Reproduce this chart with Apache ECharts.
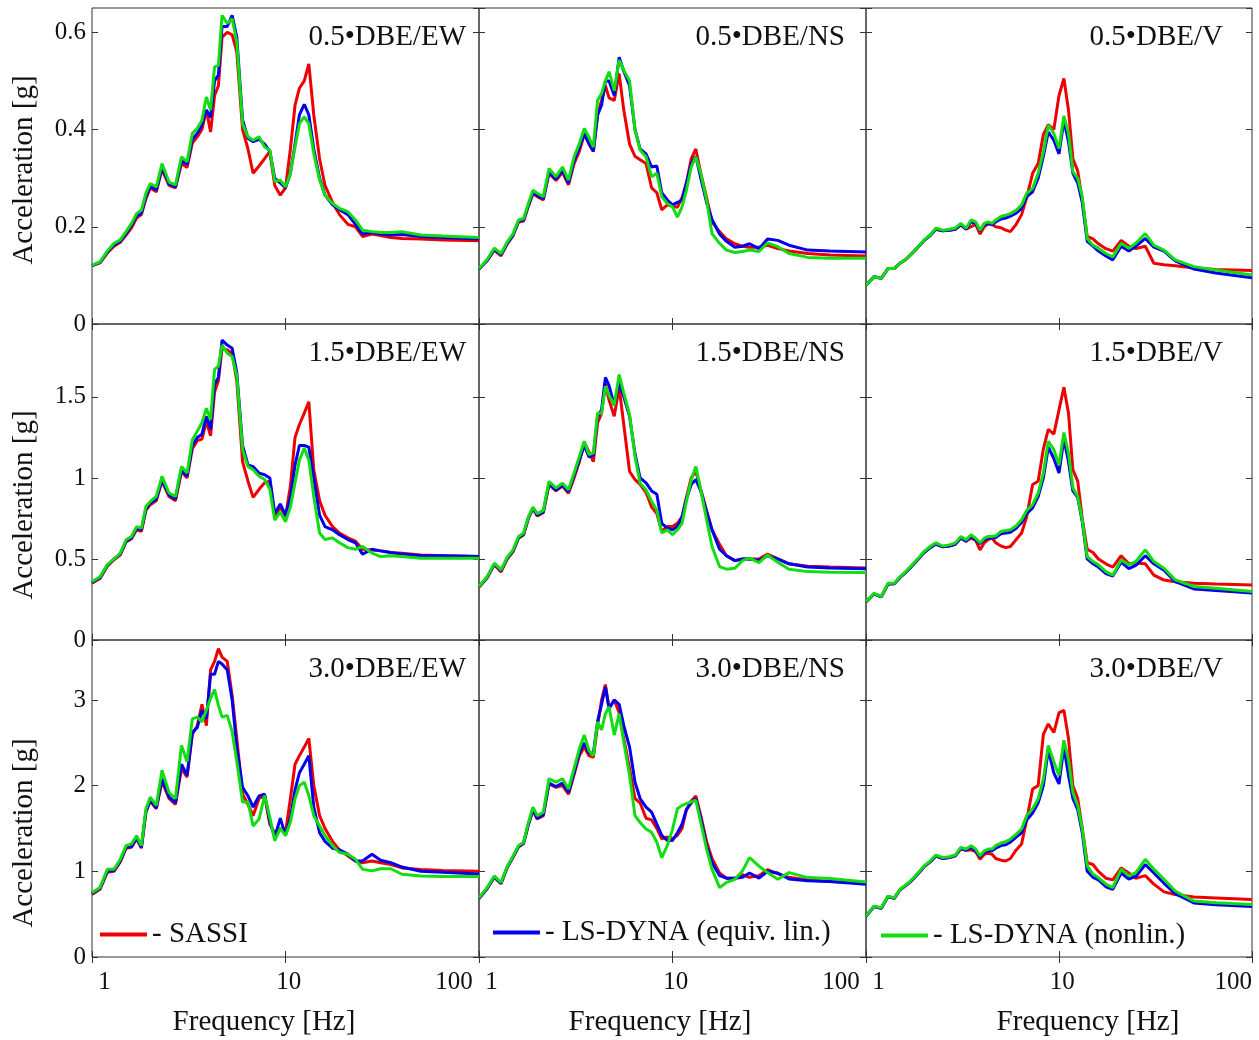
<!DOCTYPE html>
<html>
<head>
<meta charset="utf-8">
<title>Acceleration spectra</title>
<script src="https://cdn.jsdelivr.net/npm/echarts@6/dist/echarts.min.js"></script>
<style>
  html, body { margin: 0; padding: 0; background: #fff; }
  #chart { width: 1259px; height: 1040px; }
</style>
</head>
<body>
<div id="chart"></div>
<script>
// frequency grid (Hz) shared by every curve
const freq = [
  1, 1.1, 1.2, 1.3, 1.4, 1.5, 1.6, 1.7, 1.8, 1.9,
  2.0, 2.15, 2.3, 2.5, 2.7, 2.9, 3.1, 3.3, 3.5, 3.7,
  3.9, 4.1, 4.3, 4.5, 4.7, 5.0, 5.3, 5.6, 6.0, 6.4,
  6.8, 7.3, 7.8, 8.3, 8.8, 9.4, 10, 10.6, 11.2, 11.8,
  12.5, 13.2, 14, 15, 16, 17.5, 19, 21, 23, 25,
  28, 31, 35, 40, 50, 65, 100
];

const seriesNames = ['SASSI', 'LS-DYNA (equiv. lin.)', 'LS-DYNA (nonlin.)'];
const panelLabels = [
  ['0.5\u2022DBE/EW', '0.5\u2022DBE/NS', '0.5\u2022DBE/V'],
  ['1.5\u2022DBE/EW', '1.5\u2022DBE/NS', '1.5\u2022DBE/V'],
  ['3.0\u2022DBE/EW', '3.0\u2022DBE/NS', '3.0\u2022DBE/V']
];
const xTickLabels = ['1', '10', '100'];

// ---- 0.5 DBE ----
const sassi_EW05 = [
  0.120, 0.126, 0.146, 0.160, 0.168, 0.183, 0.198, 0.218, 0.225, 0.258,
  0.280, 0.272, 0.318, 0.285, 0.280, 0.330, 0.322, 0.372, 0.385, 0.400,
  0.440, 0.395, 0.470, 0.490, 0.590, 0.600, 0.595, 0.560, 0.400, 0.360,
  0.310, 0.325, 0.340, 0.355, 0.285, 0.265, 0.280, 0.360, 0.450, 0.485,
  0.500, 0.535, 0.430, 0.340, 0.285, 0.250, 0.225, 0.205, 0.200, 0.180,
  0.185, 0.182, 0.178, 0.176, 0.175, 0.173, 0.171
];
const eqlin_EW05 = [
  0.120, 0.127, 0.148, 0.163, 0.170, 0.186, 0.203, 0.222, 0.228, 0.262,
  0.283, 0.276, 0.322, 0.288, 0.282, 0.336, 0.328, 0.380, 0.392, 0.410,
  0.440, 0.425, 0.500, 0.512, 0.612, 0.612, 0.635, 0.590, 0.420, 0.382,
  0.375, 0.380, 0.370, 0.355, 0.300, 0.290, 0.280, 0.310, 0.370, 0.430,
  0.452, 0.430, 0.360, 0.300, 0.265, 0.245, 0.235, 0.225, 0.205, 0.185,
  0.188, 0.185, 0.183, 0.184, 0.180, 0.178, 0.175
];
const nonlin_EW05 = [
  0.121, 0.128, 0.150, 0.166, 0.173, 0.190, 0.207, 0.227, 0.234, 0.269,
  0.289, 0.282, 0.330, 0.292, 0.286, 0.344, 0.334, 0.392, 0.402, 0.419,
  0.467, 0.440, 0.529, 0.532, 0.635, 0.618, 0.628, 0.580, 0.412, 0.385,
  0.378, 0.385, 0.364, 0.358, 0.293, 0.296, 0.282, 0.310, 0.364, 0.412,
  0.426, 0.412, 0.351, 0.296, 0.265, 0.248, 0.238, 0.231, 0.214, 0.193,
  0.190, 0.188, 0.188, 0.190, 0.183, 0.181, 0.178
];

const sassi_NS05 = [
  0.113, 0.130, 0.152, 0.140, 0.165, 0.182, 0.210, 0.212, 0.242, 0.268,
  0.262, 0.255, 0.310, 0.295, 0.312, 0.286, 0.330, 0.355, 0.390, 0.370,
  0.355, 0.430, 0.460, 0.490, 0.465, 0.460, 0.515, 0.440, 0.370, 0.345,
  0.338, 0.330, 0.280, 0.270, 0.235, 0.245, 0.242, 0.240, 0.260, 0.290,
  0.340, 0.360, 0.310, 0.260, 0.210, 0.190, 0.175, 0.165, 0.160, 0.158,
  0.158, 0.162, 0.155, 0.150, 0.145, 0.142, 0.140
];
const eqlin_NS05 = [
  0.113, 0.130, 0.153, 0.143, 0.166, 0.183, 0.211, 0.214, 0.244, 0.270,
  0.264, 0.258, 0.312, 0.298, 0.316, 0.290, 0.336, 0.362, 0.392, 0.372,
  0.355, 0.430, 0.450, 0.500, 0.500, 0.470, 0.549, 0.520, 0.490, 0.400,
  0.360, 0.350, 0.323, 0.325, 0.270, 0.255, 0.245, 0.250, 0.255, 0.290,
  0.330, 0.345, 0.300, 0.250, 0.215, 0.185, 0.170, 0.158, 0.160, 0.165,
  0.155, 0.175, 0.172, 0.162, 0.152, 0.150, 0.148
];
const nonlin_NS05 = [
  0.114, 0.132, 0.156, 0.145, 0.169, 0.186, 0.214, 0.217, 0.248, 0.275,
  0.269, 0.262, 0.320, 0.303, 0.323, 0.296, 0.344, 0.371, 0.402, 0.384,
  0.364, 0.460, 0.474, 0.500, 0.519, 0.480, 0.543, 0.522, 0.500, 0.399,
  0.358, 0.344, 0.303, 0.310, 0.262, 0.248, 0.241, 0.220, 0.241, 0.275,
  0.323, 0.344, 0.310, 0.255, 0.186, 0.166, 0.152, 0.147, 0.149, 0.152,
  0.149, 0.167, 0.159, 0.145, 0.137, 0.135, 0.135
];

const sassi_V05 = [
  0.080, 0.097, 0.094, 0.114, 0.114, 0.125, 0.132, 0.142, 0.152, 0.162,
  0.172, 0.182, 0.195, 0.192, 0.193, 0.195, 0.204, 0.195, 0.200, 0.205,
  0.185, 0.200, 0.206, 0.205, 0.200, 0.198, 0.193, 0.190, 0.205, 0.225,
  0.260, 0.310, 0.330, 0.390, 0.410, 0.400, 0.470, 0.505, 0.440, 0.340,
  0.315, 0.255, 0.180, 0.175, 0.165, 0.155, 0.150, 0.172, 0.160, 0.155,
  0.160, 0.125, 0.122, 0.120, 0.115, 0.112, 0.110
];
const eqlin_V05 = [
  0.080, 0.097, 0.094, 0.114, 0.114, 0.125, 0.132, 0.142, 0.152, 0.162,
  0.172, 0.182, 0.195, 0.192, 0.193, 0.195, 0.204, 0.195, 0.210, 0.207,
  0.192, 0.204, 0.207, 0.204, 0.210, 0.216, 0.218, 0.222, 0.228, 0.238,
  0.262, 0.272, 0.300, 0.345, 0.395, 0.378, 0.350, 0.418, 0.375, 0.310,
  0.290, 0.250, 0.170, 0.160, 0.150, 0.140, 0.132, 0.160, 0.150, 0.160,
  0.176, 0.158, 0.150, 0.130, 0.113, 0.105, 0.095
];
const nonlin_V05 = [
  0.080, 0.097, 0.094, 0.114, 0.114, 0.125, 0.132, 0.142, 0.152, 0.162,
  0.173, 0.183, 0.197, 0.193, 0.195, 0.197, 0.207, 0.197, 0.214, 0.210,
  0.193, 0.207, 0.210, 0.207, 0.214, 0.221, 0.224, 0.227, 0.234, 0.245,
  0.269, 0.279, 0.310, 0.354, 0.409, 0.392, 0.361, 0.428, 0.392, 0.313,
  0.300, 0.262, 0.176, 0.162, 0.156, 0.145, 0.138, 0.166, 0.156, 0.166,
  0.186, 0.162, 0.152, 0.132, 0.118, 0.111, 0.101
];

// ---- 1.5 DBE ----
const sassi_EW15 = [
  0.350, 0.380, 0.455, 0.495, 0.525, 0.605, 0.625, 0.680, 0.670, 0.800,
  0.835, 0.860, 0.980, 0.885, 0.860, 1.040, 1.000, 1.180, 1.230, 1.240,
  1.350, 1.260, 1.530, 1.600, 1.800, 1.790, 1.770, 1.600, 1.100, 0.980,
  0.880, 0.930, 0.970, 0.980, 0.760, 0.820, 0.760, 0.950, 1.250, 1.330,
  1.400, 1.470, 1.050, 0.860, 0.770, 0.700, 0.660, 0.630, 0.610, 0.560,
  0.555, 0.550, 0.540, 0.535, 0.525, 0.520, 0.515
];
const eqlin_EW15 = [
  0.355, 0.385, 0.460, 0.500, 0.530, 0.610, 0.630, 0.690, 0.680, 0.810,
  0.845, 0.870, 0.990, 0.895, 0.870, 1.050, 1.010, 1.200, 1.250, 1.270,
  1.380, 1.300, 1.580, 1.620, 1.850, 1.820, 1.800, 1.650, 1.200, 1.080,
  1.070, 1.030, 1.020, 1.000, 0.780, 0.840, 0.770, 0.880, 1.080, 1.200,
  1.200, 1.190, 1.000, 0.770, 0.700, 0.680, 0.650, 0.620, 0.600, 0.530,
  0.560, 0.550, 0.540, 0.530, 0.520, 0.520, 0.515
];
const nonlin_EW15 = [
  0.360, 0.390, 0.465, 0.500, 0.536, 0.618, 0.639, 0.700, 0.690, 0.824,
  0.855, 0.886, 1.010, 0.907, 0.886, 1.070, 1.030, 1.236, 1.288, 1.340,
  1.430, 1.360, 1.670, 1.690, 1.820, 1.770, 1.750, 1.630, 1.175, 1.070,
  1.050, 1.010, 0.990, 0.930, 0.740, 0.790, 0.730, 0.820, 0.970, 1.110,
  1.185, 1.110, 0.886, 0.660, 0.620, 0.630, 0.600, 0.570, 0.560, 0.577,
  0.536, 0.515, 0.520, 0.515, 0.505, 0.505, 0.505
];

const sassi_NS15 = [
  0.325, 0.382, 0.465, 0.420, 0.500, 0.545, 0.628, 0.648, 0.750, 0.810,
  0.765, 0.785, 0.960, 0.920, 0.950, 0.905, 1.000, 1.100, 1.220, 1.160,
  1.100, 1.340, 1.400, 1.580, 1.480, 1.380, 1.560, 1.330, 1.040, 0.990,
  0.960, 0.910, 0.820, 0.780, 0.670, 0.700, 0.700, 0.720, 0.760, 0.880,
  1.000, 1.040, 0.930, 0.800, 0.680, 0.590, 0.520, 0.490, 0.500, 0.500,
  0.500, 0.530, 0.500, 0.470, 0.455, 0.450, 0.445
];
const eqlin_NS15 = [
  0.328, 0.385, 0.468, 0.428, 0.505, 0.550, 0.632, 0.652, 0.755, 0.815,
  0.770, 0.790, 0.965, 0.925, 0.955, 0.915, 1.015, 1.110, 1.200, 1.130,
  1.140, 1.380, 1.420, 1.620, 1.570, 1.450, 1.590, 1.500, 1.380, 1.150,
  1.000, 0.970, 0.920, 0.900, 0.720, 0.690, 0.680, 0.700, 0.760, 0.870,
  0.960, 0.990, 0.920, 0.790, 0.680, 0.560, 0.520, 0.490, 0.500, 0.500,
  0.490, 0.520, 0.500, 0.470, 0.450, 0.445, 0.440
];
const nonlin_NS15 = [
  0.330, 0.390, 0.474, 0.433, 0.511, 0.556, 0.639, 0.659, 0.760, 0.820,
  0.780, 0.800, 0.979, 0.938, 0.968, 0.927, 1.030, 1.133, 1.226, 1.144,
  1.154, 1.400, 1.400, 1.566, 1.510, 1.450, 1.638, 1.525, 1.390, 1.133,
  0.968, 0.927, 0.855, 0.800, 0.660, 0.680, 0.650, 0.680, 0.720, 0.855,
  0.990, 1.070, 0.927, 0.742, 0.577, 0.453, 0.437, 0.443, 0.490, 0.505,
  0.478, 0.525, 0.480, 0.437, 0.422, 0.418, 0.416
];

const sassi_V15 = [
  0.235, 0.285, 0.266, 0.345, 0.347, 0.386, 0.416, 0.448, 0.480, 0.510,
  0.540, 0.570, 0.592, 0.575, 0.580, 0.590, 0.630, 0.610, 0.630, 0.615,
  0.556, 0.600, 0.620, 0.630, 0.600, 0.580, 0.570, 0.577, 0.620, 0.660,
  0.760, 0.960, 0.980, 1.180, 1.300, 1.270, 1.420, 1.560, 1.400, 1.050,
  0.980, 0.750, 0.560, 0.540, 0.500, 0.470, 0.450, 0.520, 0.470, 0.475,
  0.470, 0.400, 0.370, 0.360, 0.350, 0.345, 0.340
];
const eqlin_V15 = [
  0.235, 0.285, 0.266, 0.345, 0.347, 0.386, 0.416, 0.448, 0.480, 0.510,
  0.540, 0.570, 0.592, 0.575, 0.580, 0.590, 0.630, 0.610, 0.640, 0.618,
  0.595, 0.618, 0.630, 0.630, 0.632, 0.655, 0.660, 0.665, 0.690, 0.725,
  0.780, 0.815, 0.885, 1.000, 1.190, 1.120, 1.030, 1.240, 1.100, 0.920,
  0.880, 0.730, 0.500, 0.470, 0.450, 0.410, 0.395, 0.480, 0.440, 0.460,
  0.520, 0.470, 0.430, 0.360, 0.315, 0.305, 0.290
];
const nonlin_V15 = [
  0.237, 0.288, 0.268, 0.350, 0.350, 0.390, 0.420, 0.453, 0.484, 0.515,
  0.546, 0.577, 0.600, 0.580, 0.587, 0.598, 0.639, 0.618, 0.650, 0.628,
  0.600, 0.628, 0.639, 0.639, 0.643, 0.670, 0.676, 0.680, 0.705, 0.742,
  0.800, 0.835, 0.907, 1.030, 1.226, 1.175, 1.080, 1.280, 1.154, 0.940,
  0.886, 0.742, 0.515, 0.484, 0.464, 0.422, 0.400, 0.494, 0.464, 0.484,
  0.556, 0.484, 0.443, 0.371, 0.330, 0.320, 0.300
];

// ---- 3.0 DBE ----
const sassi_EW30 = [
  0.730, 0.790, 0.990, 1.000, 1.110, 1.270, 1.280, 1.380, 1.270, 1.690,
  1.820, 1.730, 2.050, 1.850, 1.780, 2.200, 2.100, 2.600, 2.700, 2.950,
  2.700, 3.350, 3.450, 3.600, 3.500, 3.450, 3.050, 2.550, 1.900, 1.780,
  1.650, 1.850, 1.880, 1.550, 1.450, 1.500, 1.450, 1.850, 2.250, 2.350,
  2.450, 2.550, 2.000, 1.650, 1.500, 1.350, 1.250, 1.180, 1.120, 1.100,
  1.120, 1.100, 1.080, 1.040, 1.020, 1.010, 1.000
];
const eqlin_EW30 = [
  0.740, 0.800, 1.000, 1.010, 1.120, 1.280, 1.290, 1.390, 1.280, 1.700,
  1.830, 1.740, 2.080, 1.870, 1.800, 2.250, 2.120, 2.620, 2.680, 2.880,
  2.780, 3.300, 3.300, 3.450, 3.420, 3.350, 3.000, 2.450, 1.980, 1.880,
  1.750, 1.880, 1.900, 1.580, 1.400, 1.620, 1.420, 1.620, 1.950, 2.150,
  2.250, 2.350, 1.750, 1.450, 1.350, 1.270, 1.250, 1.200, 1.120, 1.120,
  1.200, 1.130, 1.100, 1.050, 1.000, 0.990, 0.970
];
const nonlin_EW30 = [
  0.750, 0.810, 1.025, 1.025, 1.140, 1.300, 1.320, 1.415, 1.300, 1.730,
  1.865, 1.770, 2.180, 1.920, 1.850, 2.470, 2.280, 2.780, 2.800, 2.745,
  2.880, 3.020, 3.120, 2.940, 2.800, 2.820, 2.630, 2.280, 1.810, 1.810,
  1.530, 1.610, 1.885, 1.630, 1.357, 1.500, 1.416, 1.572, 1.846, 2.000,
  2.040, 1.885, 1.650, 1.530, 1.416, 1.300, 1.220, 1.200, 1.140, 1.025,
  1.005, 1.030, 1.030, 0.966, 0.946, 0.940, 0.940
];

const sassi_NS30 = [
  0.680, 0.795, 0.930, 0.855, 1.045, 1.165, 1.285, 1.325, 1.545, 1.710,
  1.610, 1.650, 2.020, 1.980, 2.000, 1.900, 2.130, 2.350, 2.450, 2.350,
  2.330, 2.700, 3.000, 3.180, 2.900, 3.000, 2.850, 2.550, 2.200, 1.850,
  1.800, 1.620, 1.600, 1.500, 1.380, 1.400, 1.380, 1.420, 1.500, 1.720,
  1.820, 1.880, 1.650, 1.350, 1.150, 0.980, 0.920, 0.920, 0.960, 0.930,
  0.950, 1.020, 0.970, 0.930, 0.900, 0.880, 0.870
];
const eqlin_NS30 = [
  0.685, 0.800, 0.935, 0.860, 1.050, 1.170, 1.290, 1.330, 1.550, 1.720,
  1.620, 1.660, 2.030, 1.990, 2.030, 1.920, 2.150, 2.380, 2.500, 2.380,
  2.380, 2.750, 2.950, 3.150, 2.900, 3.000, 2.950, 2.700, 2.450, 2.040,
  1.850, 1.750, 1.690, 1.550, 1.420, 1.360, 1.360, 1.450, 1.550, 1.720,
  1.800, 1.850, 1.620, 1.300, 1.100, 0.950, 0.920, 0.920, 0.930, 0.980,
  0.920, 1.000, 0.980, 0.910, 0.890, 0.880, 0.850
];
const nonlin_NS30 = [
  0.690, 0.810, 0.946, 0.870, 1.060, 1.180, 1.300, 1.340, 1.570, 1.750,
  1.650, 1.690, 2.080, 2.040, 2.080, 1.960, 2.200, 2.430, 2.590, 2.410,
  2.350, 2.745, 2.650, 2.840, 2.920, 2.590, 2.840, 2.510, 2.120, 1.650,
  1.570, 1.494, 1.455, 1.340, 1.160, 1.300, 1.490, 1.730, 1.770, 1.790,
  1.810, 1.830, 1.570, 1.260, 1.025, 0.810, 0.870, 0.907, 1.005, 1.160,
  1.060, 0.985, 0.907, 0.985, 0.927, 0.915, 0.876
];

const sassi_V30 = [
  0.475, 0.590, 0.570, 0.705, 0.685, 0.785, 0.830, 0.880, 0.938, 0.995,
  1.055, 1.110, 1.180, 1.150, 1.160, 1.180, 1.265, 1.245, 1.250, 1.230,
  1.140, 1.200, 1.210, 1.200, 1.150, 1.130, 1.120, 1.150, 1.250, 1.320,
  1.600, 1.960, 2.000, 2.600, 2.720, 2.620, 2.850, 2.880, 2.550, 2.000,
  1.850, 1.500, 1.100, 1.080, 1.000, 0.920, 0.900, 1.040, 0.980, 0.920,
  0.950, 0.850, 0.760, 0.730, 0.700, 0.690, 0.670
];
const eqlin_V30 = [
  0.475, 0.590, 0.570, 0.705, 0.685, 0.785, 0.830, 0.880, 0.938, 0.995,
  1.055, 1.110, 1.180, 1.150, 1.160, 1.180, 1.265, 1.245, 1.280, 1.240,
  1.170, 1.220, 1.240, 1.240, 1.270, 1.300, 1.310, 1.340, 1.400, 1.450,
  1.600, 1.680, 1.800, 2.000, 2.420, 2.150, 2.020, 2.450, 2.120, 1.850,
  1.720, 1.450, 1.000, 0.930, 0.900, 0.820, 0.790, 0.980, 0.910, 0.940,
  1.080, 0.980, 0.860, 0.740, 0.630, 0.610, 0.590
];
const nonlin_V30 = [
  0.477, 0.594, 0.575, 0.710, 0.690, 0.790, 0.837, 0.888, 0.946, 1.005,
  1.064, 1.120, 1.190, 1.160, 1.170, 1.190, 1.280, 1.260, 1.300, 1.260,
  1.180, 1.240, 1.260, 1.260, 1.300, 1.330, 1.345, 1.377, 1.435, 1.494,
  1.650, 1.730, 1.846, 2.080, 2.470, 2.280, 2.120, 2.530, 2.300, 1.920,
  1.770, 1.494, 1.064, 0.966, 0.927, 0.850, 0.810, 1.025, 0.946, 0.985,
  1.140, 1.025, 0.907, 0.770, 0.653, 0.634, 0.614
];

// panel [row][col] -> [SASSI, equiv. lin., nonlin.]
const panelData = [
  [[sassi_EW05, eqlin_EW05, nonlin_EW05], [sassi_NS05, eqlin_NS05, nonlin_NS05], [sassi_V05, eqlin_V05, nonlin_V05]],
  [[sassi_EW15, eqlin_EW15, nonlin_EW15], [sassi_NS15, eqlin_NS15, nonlin_NS15], [sassi_V15, eqlin_V15, nonlin_V15]],
  [[sassi_EW30, eqlin_EW30, nonlin_EW30], [sassi_NS30, eqlin_NS30, nonlin_NS30], [sassi_V30, eqlin_V30, nonlin_V30]]
];

const colors = ['#ee0000', '#0000ee', '#11dd11'];
const FONT = '"Liberation Serif", "Times New Roman", serif';
const TXT = '#111';

const cols = [
  { left: 92, width: 387 },
  { left: 479, width: 387 },
  { left: 866, width: 386 }
];
const rows = [
  { top: 8, height: 316, max: 0.65, step: 0.2 },
  { top: 324, height: 316, max: 1.95, step: 0.5 },
  { top: 640, height: 317, max: 3.7, step: 1 }
];

const chart = echarts.init(document.getElementById('chart'), null, { renderer: 'canvas' });

const grid = [], xAxis = [], yAxis = [], series = [];
const tick = { show: true, inside: true, length: 6, lineStyle: { color: '#333', width: 1 } };

// keep neighbouring "100" and "1" apart like in the original
function freqLabel(v, ci) {
  const k = Math.round(Math.log10(v));
  if (k === 0) return ' ' + xTickLabels[0];
  if (k === 1) return ' ' + xTickLabels[1];
  return ci < 2 ? xTickLabels[2] + ' ' : xTickLabels[2];
}

rows.forEach((r, ri) => {
  cols.forEach((c, ci) => {
    const g = grid.length;
    grid.push({
      left: c.left, top: r.top, width: c.width, height: r.height,
      show: true, borderColor: '#333', borderWidth: 1, backgroundColor: 'transparent'
    });
    const showX = ri === 2;
    // bottom + top frequency axes
    xAxis.push({
      type: 'log', logBase: 10, min: 1, max: 100, gridIndex: g, position: 'bottom',
      axisLine: { show: false }, axisTick: tick, splitLine: { show: false },
      axisLabel: {
        show: showX, margin: 13, fontFamily: FONT, fontSize: 25, color: TXT,
        alignMinLabel: 'left', alignMaxLabel: 'right',
        formatter: v => freqLabel(v, ci)
      }
    });
    xAxis.push({
      type: 'log', logBase: 10, min: 1, max: 100, gridIndex: g, position: 'top',
      axisLine: { show: false }, axisTick: tick, splitLine: { show: false },
      axisLabel: { show: false }
    });
    // left + right acceleration axes
    yAxis.push({
      type: 'value', min: 0, max: r.max, interval: r.step, gridIndex: g, position: 'left',
      axisLine: { show: false }, axisTick: tick, splitLine: { show: false },
      axisLabel: {
        show: ci === 0, showMaxLabel: false, margin: 6,
        fontFamily: FONT, fontSize: 25, color: TXT
      }
    });
    yAxis.push({
      type: 'value', min: 0, max: r.max, interval: r.step, gridIndex: g, position: 'right',
      axisLine: { show: false }, axisTick: tick, splitLine: { show: false },
      axisLabel: { show: false }
    });
    panelData[ri][ci].forEach((vals, si) => {
      series.push({
        name: seriesNames[si],
        type: 'line',
        xAxisIndex: 2 * g,
        yAxisIndex: 2 * g,
        data: freq.map((f, i) => [f, vals[i]]),
        showSymbol: false,
        symbol: 'none',
        color: colors[si],
        lineStyle: { width: 3, color: colors[si] },
        z: 2 + si,
        silent: true
      });
    });
  });
});

// free text: panel labels and axis names
const graphic = [];
const labelRight = [466, 845, 1223];
const labelY = [37, 353, 669];
rows.forEach((r, ri) => {
  cols.forEach((c, ci) => {
    graphic.push({
      type: 'text', x: labelRight[ci], y: labelY[ri],
      style: { text: panelLabels[ri][ci], font: '29px ' + FONT, fill: TXT, align: 'right', verticalAlign: 'middle' }
    });
  });
});
[170, 505, 833].forEach(cy => {
  graphic.push({
    type: 'text', x: 24, y: cy, rotation: Math.PI / 2,
    style: { text: 'Acceleration [g]', font: '29px ' + FONT, fill: TXT, align: 'center', verticalAlign: 'middle' }
  });
});
[264, 660, 1088].forEach(cx => {
  graphic.push({
    type: 'text', x: cx, y: 1022,
    style: { text: 'Frequency [Hz]', font: '29px ' + FONT, fill: TXT, align: 'center', verticalAlign: 'middle' }
  });
});

const legendBase = {
  orient: 'horizontal', padding: 0, icon: 'rect', itemWidth: 47, itemHeight: 4,
  selectedMode: false, formatter: '- {name}',
  textStyle: { fontFamily: FONT, fontSize: 29, color: TXT }
};
const legend = [
  Object.assign({}, legendBase, { data: [seriesNames[0]], left: 100, top: 920 }),
  Object.assign({}, legendBase, { data: [seriesNames[1]], left: 493, top: 918 }),
  Object.assign({}, legendBase, { data: [seriesNames[2]], left: 881, top: 921 })
];

chart.setOption({
  animation: false,
  backgroundColor: '#fff',
  grid, xAxis, yAxis, series, legend, graphic
});
</script>
</body>
</html>
